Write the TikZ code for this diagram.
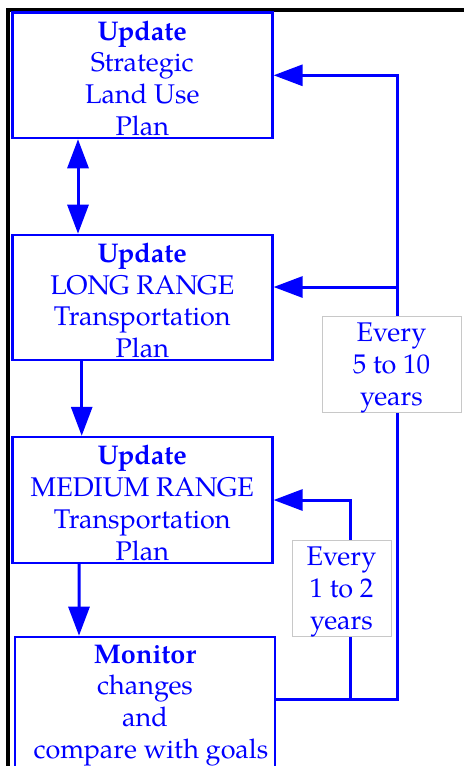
\documentclass[tikz,border=0pt]{standalone}
\usepackage{fontspec}
\setmainfont{TeX Gyre Pagella}
\usetikzlibrary{arrows.meta}
\definecolor{pblue}{RGB}{0,0,255}
\definecolor{lgray}{RGB}{200,200,200}
\newcommand{\upstrut}{\rule{0pt}{25.5bp}}
\tikzset{
  stepbox/.style={draw=pblue, line width=2.6bp, text=pblue, align=center,
    minimum width=260bp, inner sep=0pt,
    font=\fontsize{27bp}{31.8bp}\selectfont},
  freqbox/.style={draw=lgray, line width=1bp, fill=white, text=pblue, align=center,
    inner sep=0pt, font=\fontsize{27bp}{31.8bp}\selectfont},
  conn/.style={draw=pblue, line width=3bp},
  arr/.style={conn, -{Triangle[length=29bp,width=21bp]}},
  darr/.style={conn, {Triangle[length=29bp,width=21bp]}-{Triangle[length=29bp,width=21bp]}}
}
\begin{document}
\begin{tikzpicture}[x=1bp,y=-1bp]
\useasboundingbox (0,0) rectangle (464,766);
\clip (0,0) rectangle (464,766);
\fill[white] (0,0) rectangle (464,766);
\draw[line width=4.5bp] (8.2,10) rectangle (466,790);

\node[stepbox, minimum height=125.3bp] (b1) at (142.3,75.3)
  {\upstrut\textbf{Update}\\Strategic\\Land Use\\Plan};
\node[stepbox, minimum height=125bp] (b2) at (142.3,297.5)
  {\upstrut\textbf{Update}\\LONG RANGE\\Transportation\\Plan};
\node[stepbox, minimum height=125.7bp] (b3) at (142.3,500)
  {\upstrut\textbf{Update}\\MEDIUM RANGE\\Transportation\\Plan};
\node[stepbox, minimum height=137bp] (b4) at (145,705.5)
  {\textbf{Monitor}\\changes\\and\\\hspace*{12bp}compare with goals};

\coordinate (j5) at (397,699);
\coordinate (j1) at (350,699);
\coordinate (t2) at (397,287);

\draw[darr] ([xshift=-64.3bp]b1.south) -- ([xshift=-64.3bp]b2.north);
\draw[arr] ([xshift=-60.6bp]b2.south) -- ([xshift=-60.6bp]b3.north);
\draw[arr] ([xshift=-63.3bp]b3.south) -- ([xshift=-66bp]b4.north);

\draw[arr] (b4.east |- j5) -- (j5) -- (j5 |- b1.east) -- (b1.east);
\draw[arr] (t2) -- (t2 -| b2.east);
\draw[arr] (j1) -- (j1 |- b3.east) -- (b3.east);

\node[freqbox, minimum width=139bp, minimum height=95bp] (f1) at (391.5,364.5)
  {\upstrut Every\\ 5 to 10\\years};
\node[freqbox, minimum width=99bp, minimum height=95bp] (f2) at (341.5,588.5)
  {\upstrut Every\\ 1 to 2\\years};
\end{tikzpicture}
\end{document}
